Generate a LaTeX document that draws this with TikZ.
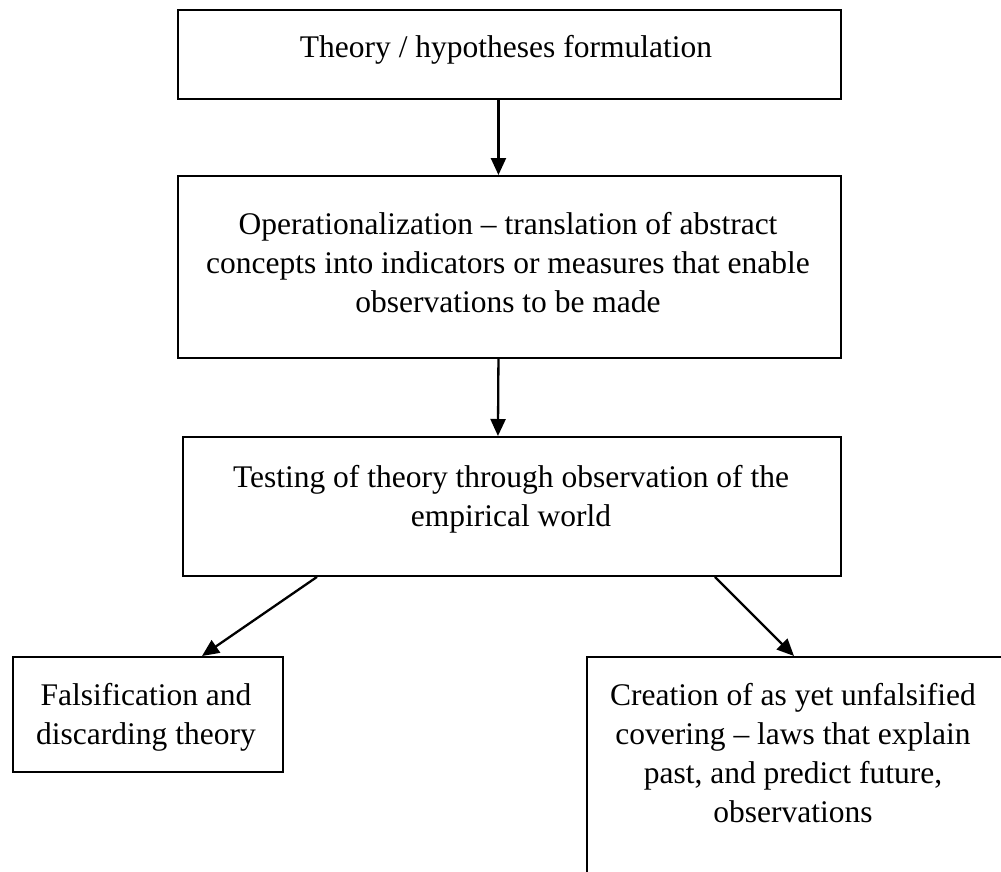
\documentclass[tikz,border=0pt]{standalone}
\usepackage{fontspec}
\setmainfont{Liberation Serif}
\usetikzlibrary{arrows.meta}
\begin{document}
\begin{tikzpicture}[x=1pt,y=-1pt,
  box/.style={draw=black,line width=1.9pt,inner sep=0pt,anchor=north west},
  label text/.style={anchor=base,align=center,inner sep=0pt,
    font=\fontsize{31.5}{39}\selectfont},
  flow/.style={line width=2.3pt,-{Triangle[length=17pt,width=15pt]}}]
\useasboundingbox (0,0) rectangle (1001,871);
\clip (0,0) rectangle (1001,871);
\fill[white] (0,0) rectangle (1001,871);

% boxes
\node[box,minimum width=663pt,minimum height=89pt]  (b1) at (177,9)   {};
\node[box,minimum width=663pt,minimum height=182pt] (b2) at (177,175) {};
\node[box,minimum width=658pt,minimum height=139pt] (b3) at (182,436) {};
\node[box,minimum width=270pt,minimum height=115pt] (b4) at (12,656)  {};
\node[box,minimum width=420pt,minimum height=260pt] (b5) at (586,656) {};

% texts (positioned by the baseline of their last line)
\node[label text] (t1) at (506,57)  {Theory / hypotheses formulation};
\node[label text] (t2) at (508,312) {Operationalization -- translation of abstract\\
  concepts into indicators or measures that enable\\ observations to be made};
\node[label text] (t3) at (511,526) {Testing of theory through observation of the\\ empirical world};
\node[label text] (t4) at (146,744) {Falsification and\\ discarding theory};
\node[label text] (t5) at (793,822) {Creation of as yet unfalsified\\
  covering -- laws that explain\\ past, and predict future,\\ observations};

% connectors
\draw[flow] ([xshift=-11pt]b1.south) -- ([xshift=-11pt]b2.north);
\draw[flow] ([xshift=-11pt]b2.south) -- ([xshift=-14pt]b3.north);
\draw[flow] ([xshift=135pt]b3.south west) -- ([xshift=190pt]b4.north west);
\draw[flow] ([xshift=-127pt]b3.south east) -- ([xshift=208pt]b5.north west);
\end{tikzpicture}
\end{document}
